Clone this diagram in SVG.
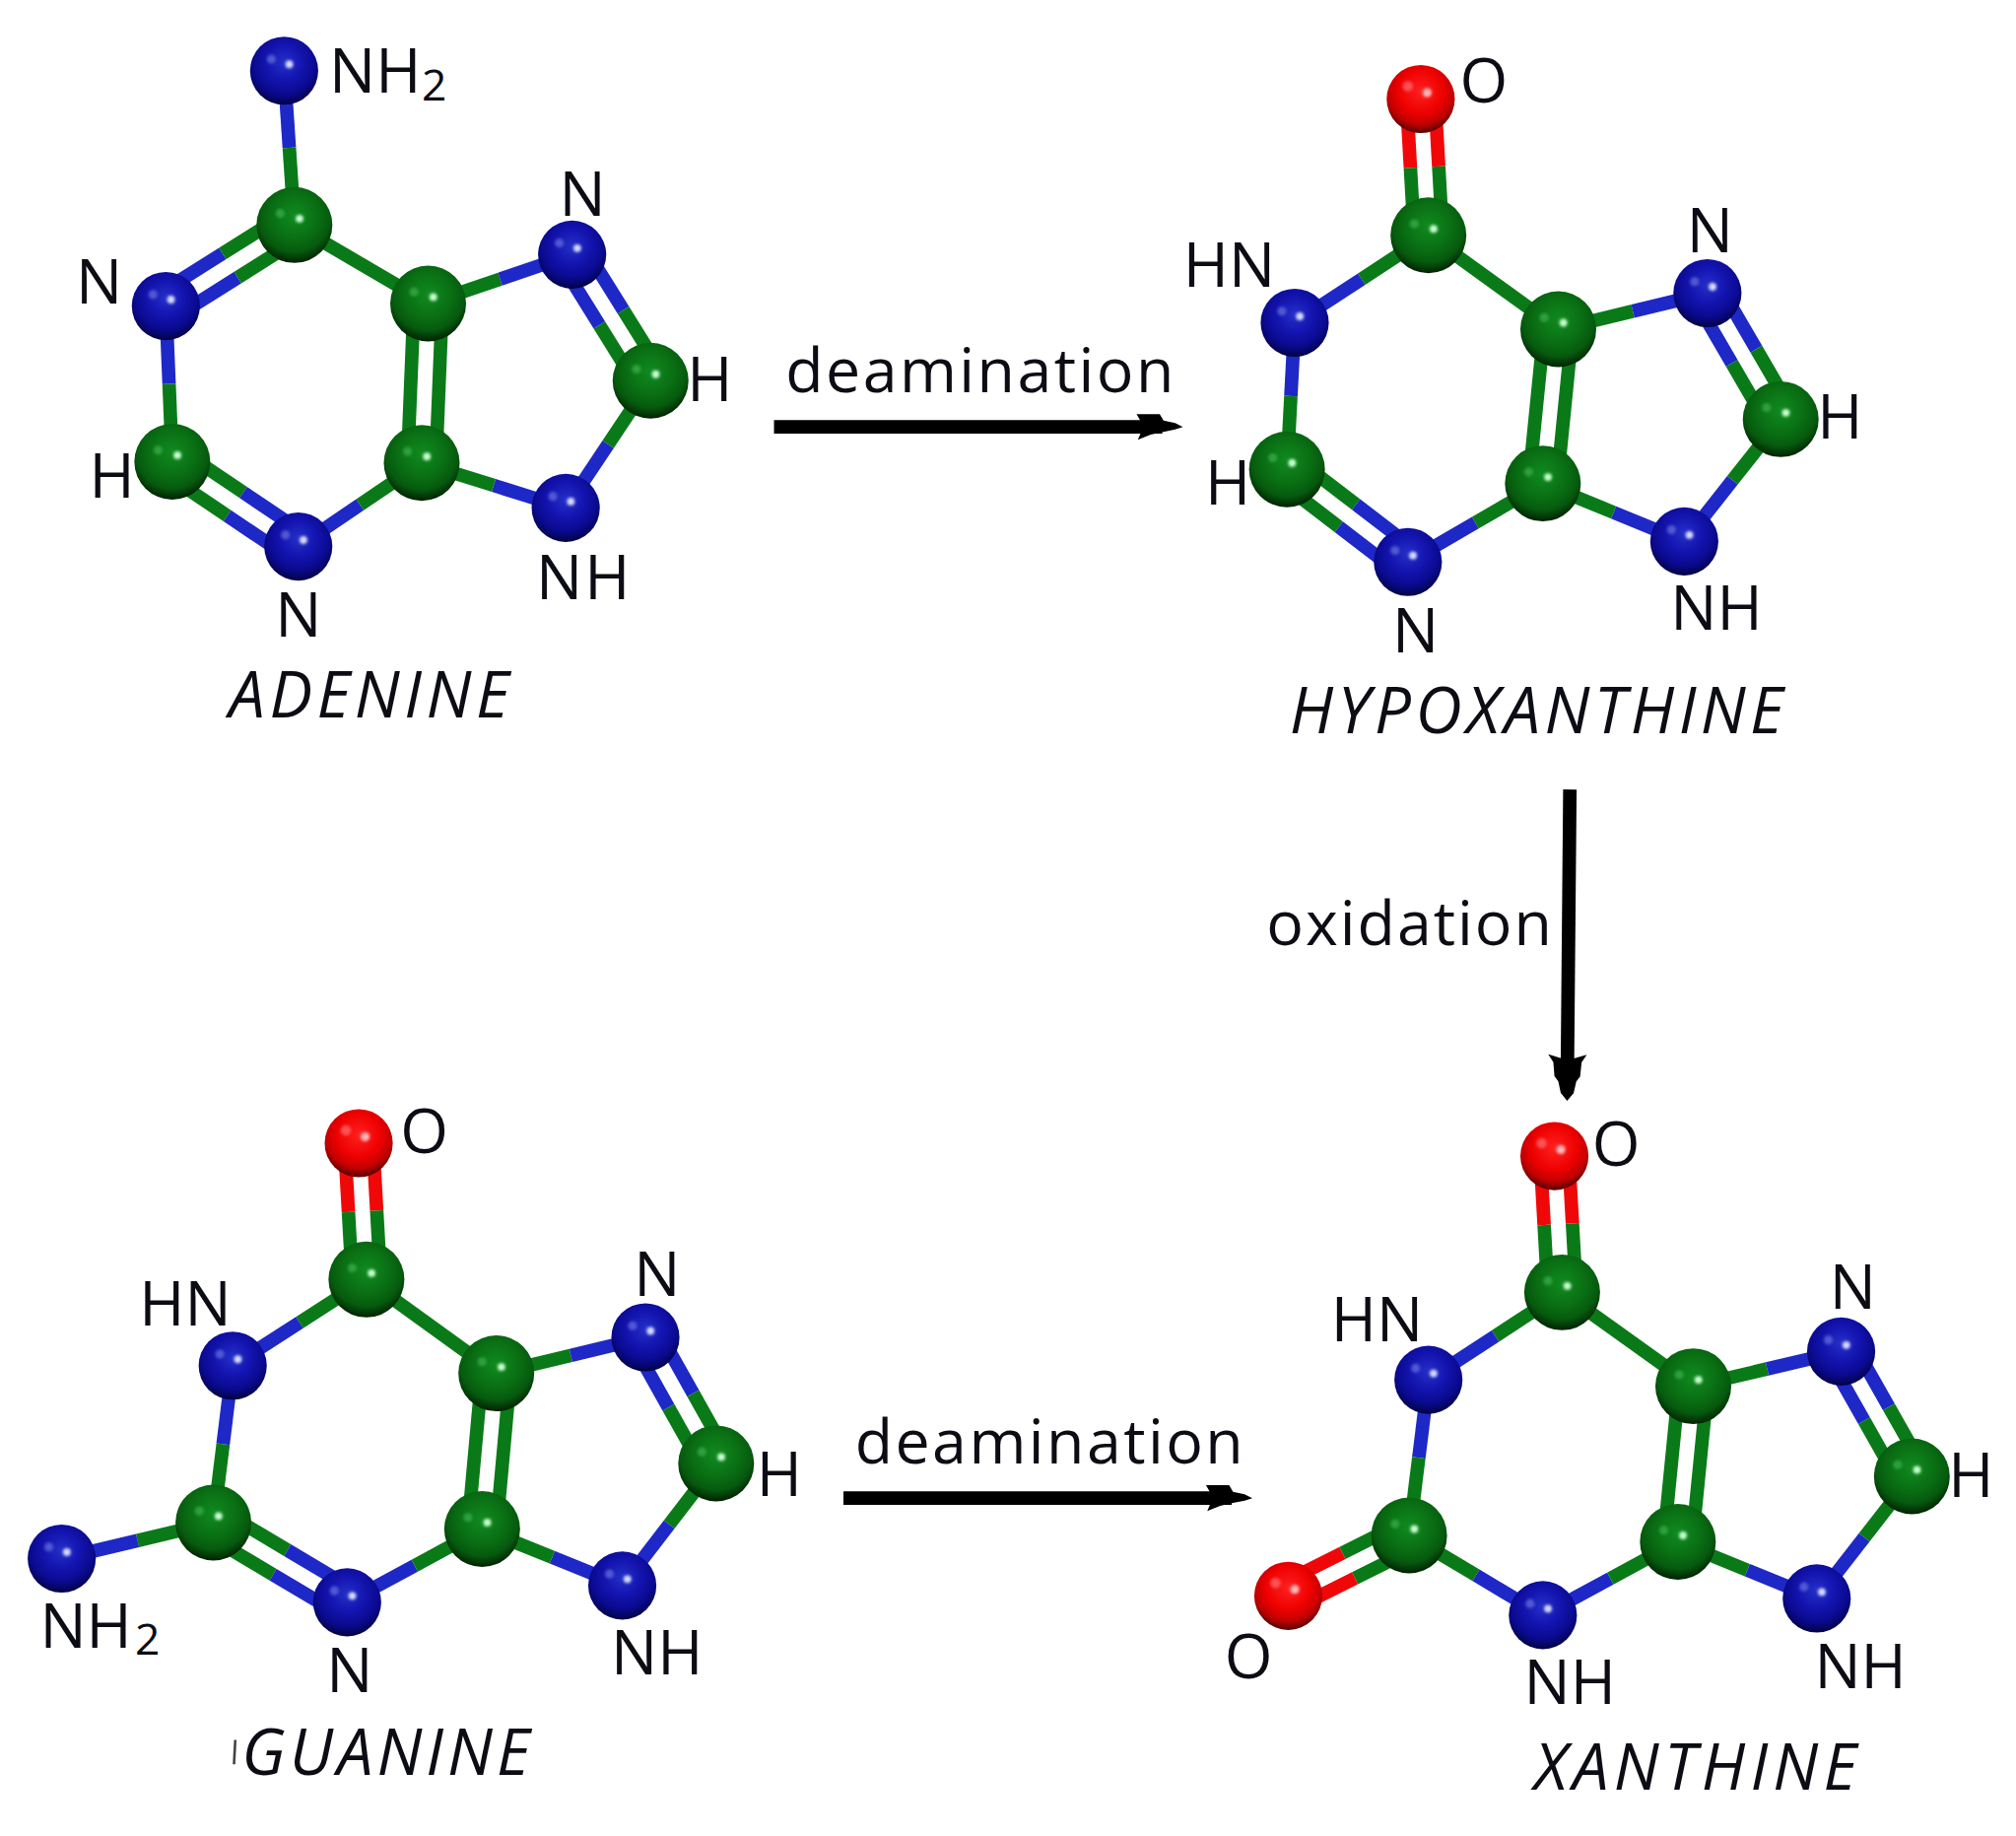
<svg xmlns="http://www.w3.org/2000/svg" width="2046" height="1863" viewBox="0 0 2046 1863">
<style>
.g{stroke:#0a7a18;stroke-width:10.5;fill:none}
.b{stroke:#1e28c6;stroke-width:10.5;fill:none}
.r{stroke:#f00808;stroke-width:10.5;fill:none}
.t{font-family:"Open Sans","Noto Sans",sans-serif;font-size:48px;fill:#0c0c14;text-anchor:middle}
.s{font-size:34px;text-anchor:start}
.n{font-style:italic;text-anchor:start;font-size:50px}
.l{text-anchor:start}
.a{stroke:#000;stroke-width:10.5;fill:none}
</style>
<defs>
<filter id="soft" x="-100%" y="-100%" width="300%" height="300%"><feGaussianBlur stdDeviation="1.3"/></filter>
<radialGradient id="gb" cx=".5" cy=".38" r=".66"><stop offset="0" stop-color="#2430c8"/><stop offset=".4" stop-color="#1414b0"/><stop offset=".7" stop-color="#0a0a90"/><stop offset=".88" stop-color="#04045a"/><stop offset="1" stop-color="#000010"/></radialGradient>
<radialGradient id="gg" cx=".5" cy=".38" r=".66"><stop offset="0" stop-color="#108a20"/><stop offset=".45" stop-color="#0a7014"/><stop offset=".72" stop-color="#065a0e"/><stop offset=".9" stop-color="#022c04"/><stop offset="1" stop-color="#000800"/></radialGradient>
<radialGradient id="gr" cx=".5" cy=".38" r=".66"><stop offset="0" stop-color="#ff2020"/><stop offset=".5" stop-color="#ee0000"/><stop offset=".75" stop-color="#c00000"/><stop offset=".92" stop-color="#600000"/><stop offset="1" stop-color="#100000"/></radialGradient>
<g id="N"><circle r="26.5" fill="url(#gb)"/><circle cx="-10" cy="-9" r="3.5" fill="#6a72e0" opacity=".7" filter="url(#soft)"/><circle cx="4" cy="-5" r="3" fill="#d8dcff" filter="url(#soft)"/></g>
<g id="C"><circle r="29.5" fill="url(#gg)"/><circle cx="-11" cy="-9" r="3.5" fill="#3cb050" opacity=".7" filter="url(#soft)"/><circle cx="4" cy="-5" r="3" fill="#c8ffd0" filter="url(#soft)"/></g>
<g id="O"><circle r="26.5" fill="url(#gr)"/><circle cx="-10" cy="-10" r="4" fill="#ff7070" opacity=".7" filter="url(#soft)"/><circle cx="5" cy="-5" r="3.5" fill="#ffb8b8" filter="url(#soft)"/></g>
<marker id="hh" markerUnits="userSpaceOnUse" orient="auto" refX="20" refY="12" markerWidth="38" markerHeight="24" overflow="visible"><path d="M0,2 L18,2 L21,7 L30,9 L36,12 L30,14 L20,16 L11,18 L1,22 L4,15 L4,9 Z" fill="#000"/></marker>
<marker id="hv" markerUnits="userSpaceOnUse" orient="auto" refX="20" refY="15" markerWidth="38" markerHeight="30" overflow="visible"><path d="M0,0 L6,4 L17,5 L21,8 L30,10 L36,15 L30,20 L21,22 L17,25 L6,26 L0,30 L3,20 L3,10 Z" fill="#000"/></marker>
</defs>
<rect width="2046" height="1863" fill="#fff"/>
<g transform="scale(1.30485)">
<g id="connectors">
<g id="bonds-adenine">
<path class="b" d="M221,55L225,115"/><path class="g" d="M225,115L229,175"/>
<path class="b" d="M134.9,247.3L184.9,215.8M123.1,228.7L173.1,197.2"/><path class="g" d="M184.9,215.8L234.9,184.3M173.1,197.2L223.1,165.7"/>
<path class="b" d="M129,238L131.5,298.5"/><path class="g" d="M131.5,298.5L134,359"/>
<path class="g" d="M127.8,368.1L176.8,401.1M140.2,349.9L189.2,382.9"/><path class="b" d="M176.8,401.1L225.8,434.1M189.2,382.9L238.2,415.9"/>
<path class="b" d="M232,425L280,392.5"/><path class="g" d="M280,392.5L328,360"/>
<path class="g" d="M339,360.4L344,236.4M317,359.6L322,235.6"/>
<path class="g" d="M333,236L229,175"/>
<path class="g" d="M333,236L389,217"/><path class="b" d="M389,217L445,198"/>
<path class="b" d="M454.3,192.2L484.8,241.2M435.7,203.8L466.2,252.8"/><path class="g" d="M484.8,241.2L515.3,290.2M466.2,252.8L496.7,301.8"/>
<path class="g" d="M506,296L473,345.5"/><path class="b" d="M473,345.5L440,395"/>
<path class="b" d="M440,395L384,377.5"/><path class="g" d="M384,377.5L328,360"/>
</g>
<g id="bonds-hypoxanthine">
<path class="r" d="M1116,76.4L1119,129.4M1094,77.6L1097,130.6"/><path class="g" d="M1119,129.4L1122,182.4M1097,130.6L1100,183.6"/>
<path class="g" d="M1111,183L1059,217"/><path class="b" d="M1059,217L1007,251"/>
<path class="b" d="M1007,251L1004,308"/><path class="g" d="M1004,308L1001,365"/>
<path class="g" d="M994.3,373.7L1041.3,409.7M1007.7,356.3L1054.7,392.3"/><path class="b" d="M1041.3,409.7L1088.3,445.7M1054.7,392.3L1101.7,428.3"/>
<path class="b" d="M1095,437L1147.5,406.5"/><path class="g" d="M1147.5,406.5L1200,376"/>
<path class="g" d="M1210.9,377.1L1222.9,257.1M1189.1,374.9L1201.1,254.9"/>
<path class="g" d="M1212,256L1111,183"/>
<path class="g" d="M1212,256L1270,242"/><path class="b" d="M1270,242L1328,228"/>
<path class="b" d="M1337.5,222.5L1366,271.5M1318.5,233.5L1347,282.5"/><path class="g" d="M1366,271.5L1394.5,320.5M1347,282.5L1375.5,331.5"/>
<path class="g" d="M1385,326L1347.5,373.5"/><path class="b" d="M1347.5,373.5L1310,421"/>
<path class="b" d="M1310,421L1255,398.5"/><path class="g" d="M1255,398.5L1200,376"/>
</g>
<g id="bonds-guanine">
<path class="r" d="M290,888.4L293,941.4M268,889.6L271,942.6"/><path class="g" d="M293,941.4L296,994.4M271,942.6L274,995.6"/>
<path class="g" d="M285,995L233,1028.5"/><path class="b" d="M233,1028.5L181,1062"/>
<path class="b" d="M181,1062L173.5,1123"/><path class="g" d="M173.5,1123L166,1184"/>
<path class="g" d="M166,1184L107,1198"/><path class="b" d="M107,1198L48,1212"/>
<path class="g" d="M160.4,1193.5L212.4,1224.5M171.6,1174.5L223.6,1205.5"/><path class="b" d="M212.4,1224.5L264.4,1255.5M223.6,1205.5L275.6,1236.5"/>
<path class="b" d="M270,1246L322.5,1217.5"/><path class="g" d="M322.5,1217.5L375,1189"/>
<path class="g" d="M386,1190L397,1069M364,1188L375,1067"/>
<path class="g" d="M386,1068L285,995"/>
<path class="g" d="M386,1068L444,1054"/><path class="b" d="M444,1054L502,1040"/>
<path class="b" d="M511.6,1034.6L539.1,1083.6M492.4,1045.4L519.9,1094.4"/><path class="g" d="M539.1,1083.6L566.6,1132.6M519.9,1094.4L547.4,1143.4"/>
<path class="g" d="M557,1138L520.5,1185.5"/><path class="b" d="M520.5,1185.5L484,1233"/>
<path class="b" d="M484,1233L429.5,1211"/><path class="g" d="M429.5,1211L375,1189"/>
</g>
<g id="bonds-xanthine">
<path class="r" d="M1220,898.4L1223,951.4M1198,899.6L1201,952.6"/><path class="g" d="M1223,951.4L1226,1004.4M1201,952.6L1204,1005.6"/>
<path class="g" d="M1215,1005L1163,1039"/><path class="b" d="M1163,1039L1111,1073"/>
<path class="b" d="M1111,1073L1103.5,1133.5"/><path class="g" d="M1103.5,1133.5L1096,1194"/>
<path class="g" d="M1100.9,1203.8L1053.9,1227.3M1091.1,1184.2L1044.1,1207.7"/><path class="r" d="M1053.9,1227.3L1006.9,1250.8M1044.1,1207.7L997.1,1231.2"/>
<path class="g" d="M1096,1194L1148,1225"/><path class="b" d="M1148,1225L1200,1256"/>
<path class="b" d="M1200,1256L1252.5,1227.5"/><path class="g" d="M1252.5,1227.5L1305,1199"/>
<path class="g" d="M1316,1200L1328,1079M1294,1198L1306,1077"/>
<path class="g" d="M1317,1078L1215,1005"/>
<path class="g" d="M1317,1078L1374.5,1064.5"/><path class="b" d="M1374.5,1064.5L1432,1051"/>
<path class="b" d="M1441.6,1045.6L1469.1,1094.1M1422.4,1056.4L1449.9,1104.9"/><path class="g" d="M1469.1,1094.1L1496.6,1142.6M1449.9,1104.9L1477.4,1153.4"/>
<path class="g" d="M1487,1148L1450,1195.5"/><path class="b" d="M1450,1195.5L1413,1243"/>
<path class="b" d="M1413,1243L1359,1221"/><path class="g" d="M1359,1221L1305,1199"/>
</g>
<g id="arrows">
<path class="a" d="M602,332L904,332" marker-end="url(#hh)"/>
<path class="a" d="M656,1165L958,1165" marker-end="url(#hh)"/>
<path class="a" d="M1221,614L1219,840" marker-end="url(#hv)"/>
</g>
</g>
<g id="adenine">
<g id="a-nh2"><use href="#N" x="221" y="55"/><text class="t l" x="256" y="72">NH</text><text class="t s" x="328" y="78">2</text></g>
<g id="a-c4"><use href="#C" x="229" y="175"/></g>
<g id="a-n1"><use href="#N" x="129" y="238"/><text class="t" x="77" y="236">N</text></g>
<g id="a-c2"><use href="#C" x="134" y="359"/><text class="t" x="87" y="387">H</text></g>
<g id="a-n3"><use href="#N" x="232" y="425"/><text class="t" x="232" y="495">N</text></g>
<g id="a-c5"><use href="#C" x="328" y="360"/></g>
<g id="a-c6"><use href="#C" x="333" y="236"/></g>
<g id="a-n7"><use href="#N" x="445" y="198"/><text class="t" x="453" y="168">N</text></g>
<g id="a-c8"><use href="#C" x="506" y="296"/><text class="t" x="552" y="312">H</text></g>
<g id="a-n9"><use href="#N" x="440" y="395"/><text class="t l" x="417" y="466" textLength="73">NH</text></g>
<text id="a-name" class="t n" x="178" y="558" textLength="218">ADENINE</text>
</g>
<g id="hypoxanthine">
<g id="h-o"><use href="#O" x="1105" y="77"/><text class="t" x="1154" y="80">O</text></g>
<g id="h-c6"><use href="#C" x="1111" y="183"/></g>
<g id="h-n1"><use href="#N" x="1007" y="251"/><text class="t" x="956" y="223">HN</text></g>
<g id="h-c2"><use href="#C" x="1001" y="365"/><text class="t" x="955" y="392">H</text></g>
<g id="h-n3"><use href="#N" x="1095" y="437"/><text class="t" x="1101" y="507">N</text></g>
<g id="h-c4"><use href="#C" x="1200" y="376"/></g>
<g id="h-c5"><use href="#C" x="1212" y="256"/></g>
<g id="h-n7"><use href="#N" x="1328" y="228"/><text class="t" x="1330" y="196">N</text></g>
<g id="h-c8"><use href="#C" x="1385" y="326"/><text class="t" x="1431" y="341">H</text></g>
<g id="h-n9"><use href="#N" x="1310" y="421"/><text class="t" x="1335" y="490">NH</text></g>
<text id="h-name" class="t n" x="1003" y="570" textLength="384">HYPOXANTHINE</text>
</g>
<g id="guanine">
<g id="g-o"><use href="#O" x="279" y="889"/><text class="t" x="330" y="897">O</text></g>
<g id="g-c6"><use href="#C" x="285" y="995"/></g>
<g id="g-n1"><use href="#N" x="181" y="1062"/><text class="t" x="144" y="1031">HN</text></g>
<g id="g-c2"><use href="#C" x="166" y="1184"/></g>
<g id="g-nh2"><use href="#N" x="48" y="1212"/><text class="t l" x="31" y="1281">NH</text><text class="t s" x="105" y="1287">2</text></g>
<g id="g-n3"><use href="#N" x="270" y="1246"/><text class="t" x="272" y="1316">N</text></g>
<g id="g-c4"><use href="#C" x="375" y="1189"/></g>
<g id="g-c5"><use href="#C" x="386" y="1068"/></g>
<g id="g-n7"><use href="#N" x="502" y="1040"/><text class="t" x="511" y="1008">N</text></g>
<g id="g-c8"><use href="#C" x="557" y="1138"/><text class="t" x="606" y="1163">H</text></g>
<g id="g-n9"><use href="#N" x="484" y="1233"/><text class="t" x="511" y="1302">NH</text></g>
<path d="M183,1353L182,1372" stroke="#444" stroke-width="2" fill="none"/>
<text id="g-name" class="t n" x="188" y="1380" textLength="224">GUANINE</text>
</g>
<g id="xanthine">
<g id="x-o"><use href="#O" x="1209" y="899"/><text class="t" x="1257" y="907">O</text></g>
<g id="x-c6"><use href="#C" x="1215" y="1005"/></g>
<g id="x-n1"><use href="#N" x="1111" y="1073"/><text class="t" x="1071" y="1043">HN</text></g>
<g id="x-c2"><use href="#C" x="1096" y="1194"/></g>
<g id="x-o2"><use href="#O" x="1002" y="1241"/><text class="t" x="971" y="1305">O</text></g>
<g id="x-n3"><use href="#N" x="1200" y="1256"/><text class="t" x="1221" y="1325">NH</text></g>
<g id="x-c4"><use href="#C" x="1305" y="1199"/></g>
<g id="x-c5"><use href="#C" x="1317" y="1078"/></g>
<g id="x-n7"><use href="#N" x="1432" y="1051"/><text class="t" x="1441" y="1018">N</text></g>
<g id="x-c8"><use href="#C" x="1487" y="1148"/><text class="t" x="1533" y="1164">H</text></g>
<g id="x-n9"><use href="#N" x="1413" y="1243"/><text class="t" x="1447" y="1313">NH</text></g>
<text id="x-name" class="t n" x="1193" y="1392" textLength="251">XANTHINE</text>
</g>
<g id="labels">
<text class="t l" x="611" y="305" textLength="302">deamination</text>
<text class="t l" x="665" y="1138" textLength="302">deamination</text>
<text class="t l" x="985" y="735" textLength="222">oxidation</text>
</g>
</g>
</svg>
